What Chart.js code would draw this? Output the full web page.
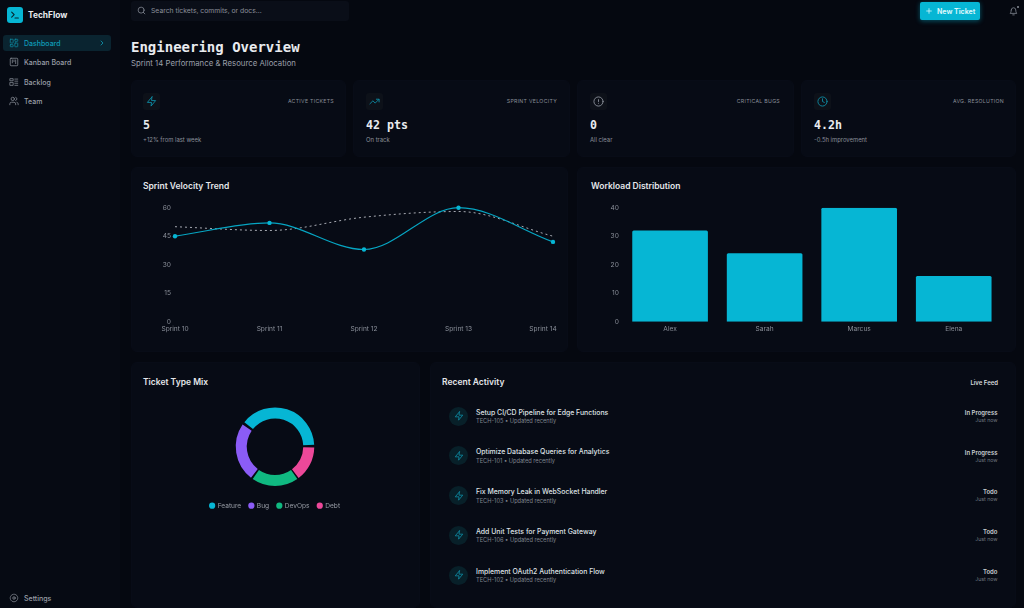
<!DOCTYPE html>
<html>
<head>
<meta charset="utf-8">
<title>TechFlow</title>
<script src="https://cdn.jsdelivr.net/npm/chart.js@4/dist/chart.umd.min.js"></script>
<style>
html, body { margin: 0; padding: 0; width: 1024px; height: 608px; overflow: hidden; background: #050810; font-family: Inter, sans-serif; }
body { filter: blur(.3px); }
.box { position: absolute; box-sizing: border-box; }
.card { position: absolute; box-sizing: border-box; background: #070b15; border: 1px solid #080c17; border-radius: 6px; }
.t { position: absolute; white-space: nowrap; line-height: 1; transform: translateY(-50%); }
.r { transform: translate(-100%, -50%); }
.mono { font-family: "DejaVu Sans Mono", monospace; font-weight: 700; }
svg { position: absolute; fill: none; stroke-linecap: round; stroke-linejoin: round; }
canvas { position: absolute; }
</style>
</head>
<body>
<div id="page"></div>
<canvas id="graficoLinha" style="left:135px;top:195px;width:450px;height:145px"></canvas>
<canvas id="graficoBarra" style="left:585px;top:195px;width:430px;height:145px"></canvas>
<canvas id="graficoRosca" style="left:131px;top:399px;width:288px;height:120px"></canvas>
<script>
var sprints = ['Sprint 10', 'Sprint 11', 'Sprint 12', 'Sprint 13', 'Sprint 14']
var velocidade = [45, 52, 38, 60, 42]
var tendencia = [50, 48, 55, 58, 45]
var membros = ['Alex', 'Sarah', 'Marcus', 'Elena']
var carga = [32, 24, 40, 16]
var tipos = ['Feature', 'Bug', 'DevOps', 'Debt']
var mix = [40, 25, 20, 15]
var coresTipos = ['#06b6d4', '#8b5cf6', '#10b981', '#ec4899']

var navItens = ['Dashboard', 'Kanban Board', 'Backlog', 'Team']
var statTitulos = ['ACTIVE TICKETS', 'SPRINT VELOCITY', 'CRITICAL BUGS', 'AVG. RESOLUTION']
var statValores = ['5', '42 pts', '0', '4.2h']
var statNotas = ['+12% from last week', 'On track', 'All clear', '-0.5h improvement']
var atividades = ['Setup CI/CD Pipeline for Edge Functions', 'Optimize Database Queries for Analytics', 'Fix Memory Leak in WebSocket Handler', 'Add Unit Tests for Payment Gateway', 'Implement OAuth2 Authentication Flow']
var atividadeIds = ['TECH-105', 'TECH-101', 'TECH-103', 'TECH-106', 'TECH-102']
var atividadeStatus = ['In Progress', 'In Progress', 'Todo', 'Todo', 'Todo']

var icones = {
	zap: '<path d="M13 2 3 14h9l-1 8 10-12h-9l1-8z"/>',
	trend: '<path d="m22 7-8.5 8.5-5-5L2 17"/><path d="M16 7h6v6"/>',
	alert: '<circle cx="12" cy="12" r="10"/><path d="M12 8v4M12 16h.01"/>',
	clock: '<circle cx="12" cy="12" r="10"/><path d="M12 6v6l4 2"/>',
	dash: '<rect x="3" y="3" width="7" height="9" rx="1"/><rect x="14" y="3" width="7" height="5" rx="1"/><rect x="14" y="12" width="7" height="9" rx="1"/><rect x="3" y="16" width="7" height="5" rx="1"/>',
	kanban: '<rect x="3" y="3" width="18" height="18" rx="2"/><path d="M8 7v7M12 7v4M16 7v9"/>',
	backlog: '<rect x="3" y="4" width="7" height="5"/><rect x="3" y="13" width="7" height="7"/><path d="M14 5h7M14 10h7M14 15h7M14 20h7"/>',
	team: '<path d="M16 21v-2a4 4 0 0 0-4-4H6a4 4 0 0 0-4 4v2"/><circle cx="9" cy="7" r="4"/><path d="M22 21v-2a4 4 0 0 0-3-3.87M16 3.13a4 4 0 0 1 0 7.75"/>',
	gear: '<circle cx="12" cy="12" r="3"/><circle cx="12" cy="12" r="9" stroke-dasharray="3 2"/>',
	search: '<circle cx="11" cy="11" r="8"/><path d="m21 21-4.3-4.3"/>',
	bell: '<path d="M10 21h4M6 8a6 6 0 0 1 12 0c0 7 3 9 3 9H3s3-2 3-9"/>',
	plus: '<path d="M5 12h14M12 5v14"/>',
	chevron: '<path d="m9 18 6-6-6-6"/>',
	prompt: '<path d="m4 17 6-6-6-6M12 19h8"/>'
}

var page = document.getElementById('page')

function caixa(x, y, w, h, fundo, raio, classe) {
	var el = document.createElement('div')
	el.className = classe || 'box'
	el.style.cssText = 'left:' + x + 'px;top:' + y + 'px;width:' + w + 'px;height:' + h + 'px;background:' + fundo + ';border-radius:' + (raio || 0) + 'px'
	page.appendChild(el)
	return el
}

function texto(x, y, str, tam, cor, peso, classe) {
	var el = document.createElement('div')
	el.className = 't ' + (classe || '')
	el.textContent = str
	el.style.cssText = 'left:' + x + 'px;top:' + y + 'px;font-size:' + tam + 'px;color:' + cor + ';font-weight:' + (peso || 400)
	page.appendChild(el)
	return el
}

function icone(nome, x, y, tam, cor, largura) {
	page.insertAdjacentHTML('beforeend', '<svg viewBox="0 0 24 24" style="left:' + x + 'px;top:' + y + 'px;width:' + tam + 'px;height:' + tam + 'px;stroke:' + cor + ';stroke-width:' + (largura || 2) + '">' + icones[nome] + '</svg>')
}

// sidebar
caixa(0, 0, 120, 608, '#060a13')
caixa(7, 7, 16, 16, '#06b6d4', 3)
icone('prompt', 10, 10, 10, '#06242c', 2.6)
texto(28, 15, 'TechFlow', 8.4, '#e8eaee', 700)
caixa(3, 35, 108, 16, '#0a2430', 3)
var navY = [43, 62, 82, 101]
var navIcones = ['dash', 'kanban', 'backlog', 'team']
navItens.forEach(function (nome, i) {
	var ativo = i == 0
	icone(navIcones[i], 9, navY[i] - 5, 10, ativo ? '#0e8ba3' : '#8a8f99', 1.8)
	texto(24, navY[i], nome, 7, ativo ? '#0e9db8' : '#9a9fa8', 500)
})
icone('chevron', 98, 39, 8, '#0e9db8', 2.4)
icone('gear', 9, 593, 10, '#8a8f99', 1.8)
texto(24, 598, 'Settings', 7, '#9a9fa8', 500)

// header
caixa(131, 1, 218, 20, '#0a0e18', 3)
icone('search', 137, 6, 9, '#8a8f99', 2)
texto(151, 11, 'Search tickets, commits, or docs...', 6.8, '#8a8f99')
caixa(920, 2, 60, 18, '#06b6d4', 2).style.boxShadow = '0 1px 5px rgba(6,182,212,.45)'
icone('plus', 925, 7, 8, '#d8f6fb', 2.4)
texto(937, 11, 'New Ticket', 7, '#d8f6fb', 700)
icone('bell', 1009, 7, 9, '#8a8f99', 2)
caixa(1017, 6, 2, 2, '#8a8f99', 1)

texto(131, 47, 'Engineering Overview', 14, '#e9ebef', 700, 'mono')
texto(131, 63.6, 'Sprint 14 Performance & Resource Allocation', 7.8, '#9a9fa8')

// stat cards
var statX = [131, 353, 577, 801]
var statW = [215, 217, 217, 215]
var statIconeX = [143, 366, 590, 814]
var statFim = [334, 557, 780, 1004]
var statIcones = ['zap', 'trend', 'alert', 'clock']
var statCores = ['#0e8ba3', '#0e8ba3', '#8a8f99', '#0e8ba3']
statTitulos.forEach(function (titulo, i) {
	caixa(statX[i], 80, statW[i], 77, '#070b15', 6, 'card')
	var ix = statIconeX[i]
	caixa(ix, 93, 17, 17, '#0d1119', 3)
	icone(statIcones[i], ix + 3, 96, 11, statCores[i], 2)
	texto(statFim[i], 102, titulo, 5.2, '#8a8f99', 400, 'r').style.letterSpacing = '.3px'
	texto(ix, 126, statValores[i], 11.6, '#e9ebef', 700, 'mono')
	texto(ix, 140, statNotas[i], 5.9, '#8a8f99')
})

// cards dos graficos
caixa(131, 167, 437, 185, '#070b15', 6, 'card')
caixa(577, 167, 439, 185, '#070b15', 6, 'card')
caixa(131, 362, 289, 246, '#070b15', 6, 'card')
caixa(430, 362, 586, 246, '#070b15', 6, 'card')
texto(143, 186, 'Sprint Velocity Trend', 8.5, '#e4e6ea', 600)
texto(591, 186, 'Workload Distribution', 8.5, '#e4e6ea', 600)
texto(143, 381.5, 'Ticket Type Mix', 8.5, '#e4e6ea', 600)
texto(442, 381.5, 'Recent Activity', 8.5, '#e4e6ea', 600)
texto(998, 383, 'Live Feed', 6, '#d5d8dd', 600, 'r')

// atividade recente
atividades.forEach(function (titulo, i) {
	var y = 416 + i * 39.8
	caixa(449, y - 9.5, 19, 19, '#082029', 10)
	icone('zap', 454, y - 5, 10, '#0e8ba3', 2)
	texto(476, y - 3.5, titulo, 6.9, '#dfe2e6', 500)
	texto(476, y + 5, atividadeIds[i] + ' • Updated recently', 5.7, '#7f848e')
	texto(997.5, y - 3.2, atividadeStatus[i], 6, '#c8ccd2', 600, 'r')
	texto(997.5, y + 4.7, 'Just now', 5.2, '#6f747e', 400, 'r')
})

var corTick = '#8a8f99'
var fonteTick = { family: 'Inter', size: 6.6 }

function escalas(larguraY, maximo, passo) {
	return {
		x: {
			grid: { display: false, drawTicks: false },
			border: { display: false },
			ticks: { color: corTick, font: fonteTick, padding: 3, maxRotation: 0, autoSkip: false },
			afterFit: function (scale) { scale.height = 18.3 }
		},
		y: {
			min: 0,
			max: maximo,
			grid: { display: false, drawTicks: false },
			border: { display: false },
			ticks: { color: corTick, font: fonteTick, padding: 4, stepSize: passo },
			afterFit: function (scale) { scale.width = larguraY }
		}
	}
}

// o ultimo rotulo do eixo x fica recuado na referencia
var recuaUltimoRotulo = {
	id: 'recuaUltimoRotulo',
	afterLayout: function (chart) {
		var itens = chart.scales.x.getLabelItems(chart.chartArea)
		itens[itens.length - 1].options.translation[0] -= 10
	}
}

var configLinha = {
	type: 'line',
	data: {
		labels: sprints,
		datasets: [{
			data: velocidade,
			borderColor: '#06a5c2',
			backgroundColor: '#06b6d4',
			borderWidth: 1.2,
			cubicInterpolationMode: 'monotone',
			pointRadius: 2.2,
			pointBorderWidth: 0,
			clip: false
		}, {
			data: tendencia,
			borderColor: '#b9bcc4',
			borderWidth: 0.9,
			borderDash: [2, 3],
			cubicInterpolationMode: 'monotone',
			pointRadius: 0,
			clip: false
		}]
	},
	options: {
		responsive: false,
		animation: false,
		layout: { autoPadding: false, padding: { top: 12.7, right: 32, left: 0, bottom: 0 } },
		plugins: { legend: { display: false }, tooltip: { enabled: false } },
		scales: escalas(40, 60, 15)
	},
	plugins: [recuaUltimoRotulo]
}
new Chart(document.getElementById('graficoLinha').getContext('2d'), configLinha)

var configBarra = {
	type: 'bar',
	data: {
		labels: membros,
		datasets: [{
			data: carga,
			backgroundColor: '#06b6d4',
			borderRadius: { topLeft: 1.5, topRight: 1.5 },
			borderSkipped: 'bottom',
			categoryPercentage: 1,
			barPercentage: 0.8
		}]
	},
	options: {
		responsive: false,
		animation: false,
		layout: { autoPadding: false, padding: { top: 12.7, right: 14, left: 0, bottom: 0 } },
		plugins: { legend: { display: false }, tooltip: { enabled: false } },
		scales: escalas(37.8, 40, 10)
	}
}
new Chart(document.getElementById('graficoBarra').getContext('2d'), configBarra)

// a rosca gira no sentido anti-horario na referencia, por isso os dados vao invertidos
var configRosca = {
	type: 'doughnut',
	data: {
		labels: tipos.slice().reverse(),
		datasets: [{
			data: mix.slice().reverse(),
			backgroundColor: coresTipos.slice().reverse(),
			borderWidth: 0,
			spacing: 2.5
		}]
	},
	options: {
		responsive: false,
		animation: false,
		rotation: 90,
		radius: 38,
		cutout: '71%',
		layout: { padding: 0 },
		plugins: {
			tooltip: { enabled: false },
			legend: {
				position: 'bottom',
				reverse: true,
				labels: {
					color: '#9a9fa8',
					font: { family: 'Inter', size: 6.6 },
					usePointStyle: true,
					pointStyle: 'circle',
					boxWidth: 4.4,
					boxHeight: 4.4,
					padding: 8
				}
			}
		}
	}
}
new Chart(document.getElementById('graficoRosca').getContext('2d'), configRosca)
</script>
</body>
</html>
